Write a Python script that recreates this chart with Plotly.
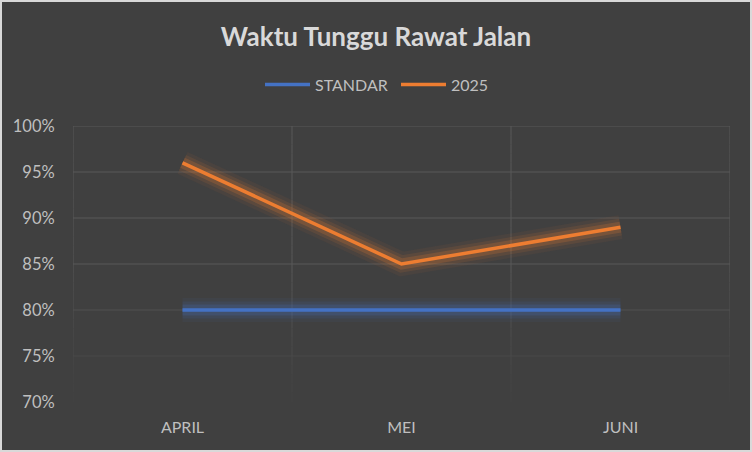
import plotly.graph_objects as go

MONTHS = ['APRIL', 'MEI', 'JUNI']
STANDAR = [0.80, 0.80, 0.80]
TAHUN_2025 = [0.96, 0.85, 0.89]
Y_TICKS = [0.70, 0.75, 0.80, 0.85, 0.90, 0.95, 1.00]

BG = '#404040'
TEXT = '#bfbfbf'
FONT = 'Lato, "Open Sans", sans-serif'


def grid_color(level):
    # gridlines fade out towards the bottom of the plot area
    if level >= 0.85:
        v = 0x58
    else:
        v = int(0x41 + (0x58 - 0x41) * (level - 0.70) / 0.15)
    return f'rgb({v},{v},{v})'


def add_glow_line(fig, y, name, color, glow_rgb):
    # soft glow behind the line, like the office chart effect
    for width, alpha in [(24, 0.06), (17, 0.11), (11, 0.2)]:
        fig.add_trace(go.Scatter(
            x=MONTHS, y=y, mode='lines', showlegend=False, hoverinfo='skip',
            line=dict(color=f'rgba({glow_rgb},{alpha})', width=width),
        ))
    fig.add_trace(go.Scatter(
        x=MONTHS, y=y, mode='lines', name=name,
        line=dict(color=color, width=3.5),
    ))


fig = go.Figure()
add_glow_line(fig, STANDAR, 'STANDAR', '#4472C4', '68,114,196')
add_glow_line(fig, TAHUN_2025, '2025', '#ED7D31', '237,125,49')

# horizontal gridlines
for level in Y_TICKS:
    fig.add_shape(type='line', xref='paper', yref='y', x0=0, x1=1, y0=level, y1=level,
                  line=dict(color=grid_color(level), width=1), layer='below')

# vertical gridlines between the categories, drawn in small fading pieces
steps = [0.70 + i * 0.01 for i in range(31)]
for pos in [-0.5, 0.5, 1.5, 2.5]:
    for lo, hi in zip(steps[:-1], steps[1:]):
        fig.add_shape(type='line', xref='x', yref='y', x0=pos, x1=pos, y0=lo, y1=hi,
                      line=dict(color=grid_color(hi), width=1), layer='below')

fig.update_layout(
    width=748, height=448,
    paper_bgcolor=BG, plot_bgcolor=BG,
    font=dict(family=FONT, color=TEXT, size=16),
    title=dict(text='<b>Waktu Tunggu Rawat Jalan</b>', x=0.5, xanchor='center',
               y=1 - 35 / 448, yanchor='middle',
               font=dict(size=26, color='#d9d9d9', family=FONT)),
    legend=dict(orientation='h', x=(260 - 73) / 657, xanchor='left', y=1.15, yanchor='middle',
                itemwidth=45, entrywidth=76,
                font=dict(size=16, color=TEXT), bgcolor='rgba(0,0,0,0)'),
    margin=dict(l=71, r=20, t=124, b=48),
    showlegend=True,
)
fig.update_xaxes(
    type='category', range=[-0.5, 2.5], showgrid=False, zeroline=False,
    showline=False, tickfont=dict(size=16, color=TEXT), ticks='outside',
    ticklen=11, tickcolor=BG,
)
fig.update_yaxes(
    range=[0.70, 1.00], tickvals=Y_TICKS, tickformat='.0%', showgrid=False,
    zeroline=False, showline=False,
    tickfont=dict(size=16.5, color=TEXT), ticks='outside', ticklen=14, tickcolor=BG,
)

fig.write_html(
    'out.html',
    post_script="document.body.style.margin='0';document.body.style.padding='2px';"
                "document.body.style.background='#d9d9d9';",
)
